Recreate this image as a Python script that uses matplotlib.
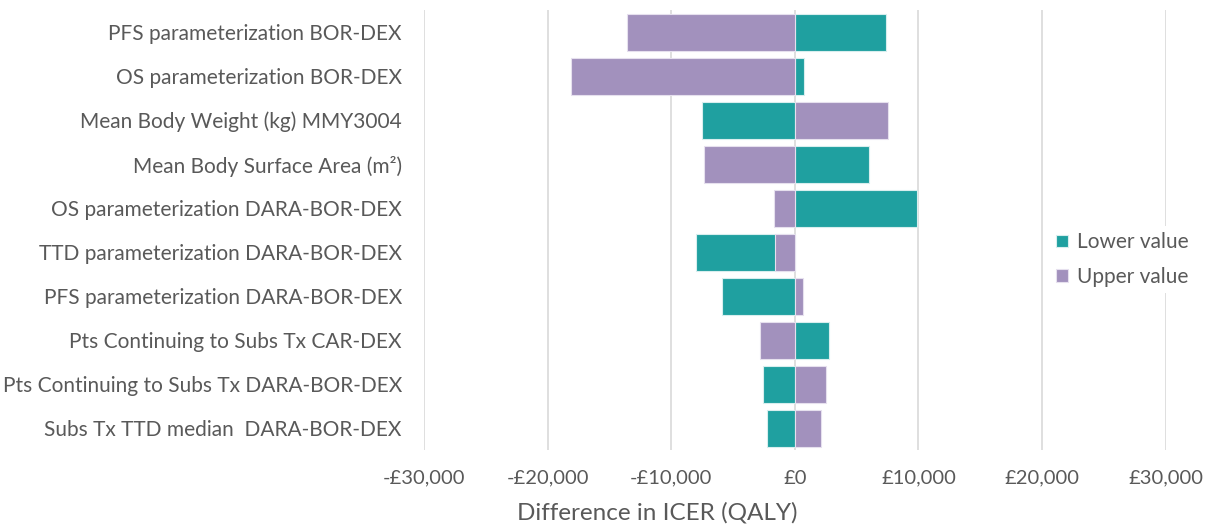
import numpy as np
import matplotlib
matplotlib.use("Agg")
import matplotlib.pyplot as plt
from matplotlib.ticker import FuncFormatter

params = [
    "PFS parameterization BOR-DEX",
    "OS parameterization BOR-DEX",
    "Mean Body Weight (kg) MMY3004",
    "Mean Body Surface Area (m²)",
    "OS parameterization DARA-BOR-DEX",
    "TTD parameterization DARA-BOR-DEX",
    "PFS parameterization DARA-BOR-DEX",
    "Pts Continuing to Subs Tx CAR-DEX",
    "Pts Continuing to Subs Tx DARA-BOR-DEX",
    "Subs Tx TTD median  DARA-BOR-DEX",
]
lower_value = [7360, 730, -7550, 5990, 9900, -8030, -5910, 2780, -2560, -2240]
upper_value = [-13540, -18120, 7520, -7390, -1720, -1590, 620, -2780, 2510, 2100]

teal = "#1fa0a0"
purple = "#a291bd"
grey = "#595959"

plt.rcParams["font.family"] = ["Lato", "DejaVu Sans"]

fig = plt.figure(figsize=(12.08, 5.28), dpi=100)
ax = fig.add_axes([0.351, 0.147, 0.614, 0.834])

y = np.arange(len(params))
h = 0.84
ax.barh(y, lower_value, height=h, color=teal, edgecolor="#d8eeee", linewidth=0.8,
        label="Lower value", zorder=3)
ax.barh(y, upper_value, height=h, color=purple, edgecolor="#e6e0ee", linewidth=0.8,
        label="Upper value", zorder=4)

ax.set_xlim(-30000, 30000)
ax.set_ylim(len(params) - 0.5, -0.5)
ax.set_xticks(np.arange(-30000, 30001, 10000))
ax.xaxis.set_major_formatter(FuncFormatter(
    lambda v, p: ("-" if v < 0 else "") + "£{:,.0f}".format(abs(v))))
ax.set_yticks(y)
ax.set_yticklabels(params)

ax.grid(axis="x", color="#d9d9d9", linewidth=1.2, zorder=0)
for s in ax.spines.values():
    s.set_visible(False)
ax.tick_params(axis="x", length=0, colors=grey, labelsize=14.5, pad=14)
ax.tick_params(axis="y", length=0, colors=grey, labelsize=15, pad=16)
ax.set_xlabel("Difference in ICER (QALY)", fontsize=17.5, color=grey, va="center")
ax.xaxis.set_label_coords(0.314, -0.142)

leg = ax.legend(loc="center left", bbox_to_anchor=(0.83, 0.433), frameon=True,
                fontsize=15, handlelength=0.55, handleheight=0.55, handletextpad=0.45,
                labelspacing=0.7, borderpad=0.3)
leg.get_frame().set_edgecolor("none")
leg.get_frame().set_facecolor("white")
leg.get_frame().set_alpha(1)
for t in leg.get_texts():
    t.set_color(grey)

fig.savefig("out.png", dpi=100)
